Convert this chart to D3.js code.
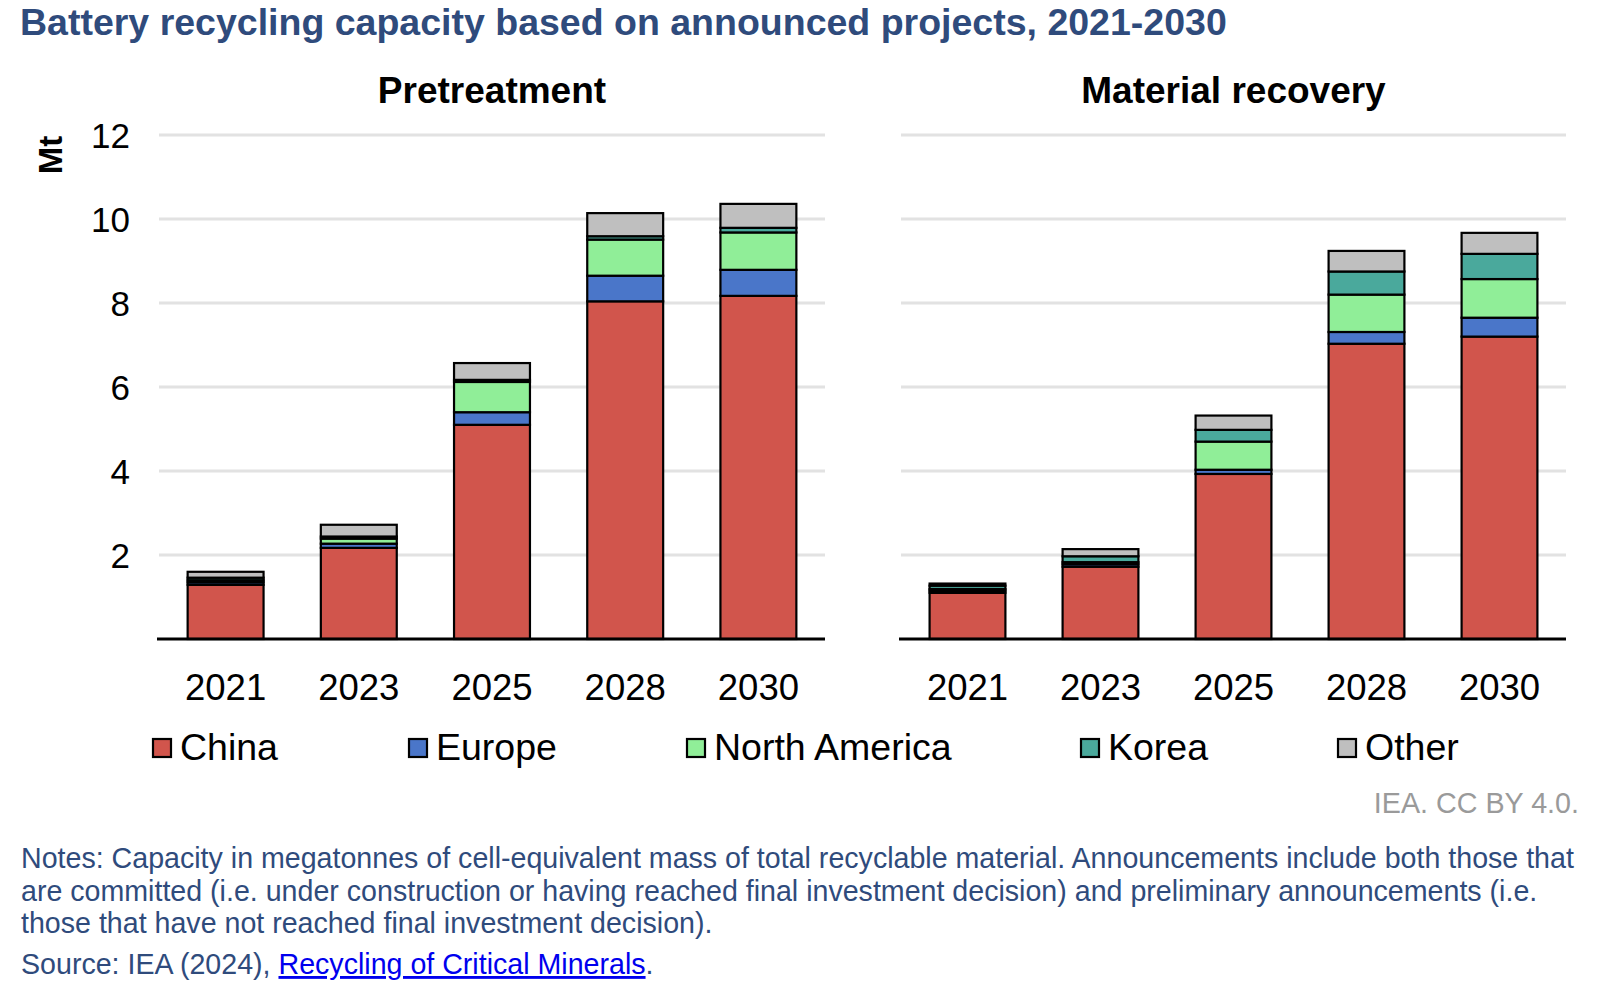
<!DOCTYPE html>
<html><head><meta charset="utf-8">
<script src="https://cdn.jsdelivr.net/npm/d3@7"></script>
<style>
body{margin:0;background:#fff;}
svg text{font-family:"Liberation Sans",Arial,sans-serif;}
</style></head>
<body><svg id="c" width="1612" height="992"></svg>
<script>
const years = ["2021","2023","2025","2028","2030"];
const regions = ["China","Europe","North America","Korea","Other"];
const colors = ["#d1554c","#4a76c9","#90ee98","#4aa99c","#bfbfbf"];
const yTicks = [2,4,6,8,10,12];
const gridTicks = [2,4,6,8,10,12];
const panelTitles = ["Pretreatment","Material recovery"];

// Pretreatment (Mt)
const preChina  = [1.29, 2.17, 5.10, 8.04, 8.17];
const preEurope = [0.06, 0.10, 0.30, 0.61, 0.62];
const preNA     = [0.05, 0.12, 0.72, 0.86, 0.89];
const preKorea  = [0.06, 0.05, 0.05, 0.08, 0.11];
const preOther  = [0.14, 0.28, 0.40, 0.55, 0.57];
// Material recovery (Mt)
const matChina  = [1.10, 1.72, 3.93, 7.03, 7.20];
const matEurope = [0.05, 0.06, 0.10, 0.28, 0.45];
const matNA     = [0.04, 0.05, 0.67, 0.89, 0.92];
const matKorea  = [0.08, 0.14, 0.28, 0.55, 0.60];
const matOther  = [0.05, 0.17, 0.34, 0.49, 0.50];

const panels = [
  [preChina, preEurope, preNA, preKorea, preOther],
  [matChina, matEurope, matNA, matKorea, matOther]
];

const svg = d3.select("#c");
const navy = "#2f4b7c";

svg.append("text").attr("x",20).attr("y",35)
  .attr("font-size",37.5).attr("font-weight","bold").attr("fill",navy)
  .text("Battery recycling capacity based on announced projects, 2021-2030");

const y = d3.scaleLinear().domain([0,12]).range([639,135]);
const panelX = [[159,825],[901,1566]];

panels.forEach((series, pi) => {
  const [x0,x1] = panelX[pi];
  const x = d3.scaleBand().domain(years).range([x0,x1]).paddingInner(0.43).paddingOuter(0.215);
  const g = svg.append("g");
  g.selectAll(".grid").data(gridTicks).join("line")
    .attr("x1",x0).attr("x2",x1)
    .attr("y1",d=>y(d)).attr("y2",d=>y(d))
    .attr("stroke","#e2e2e2").attr("stroke-width",3);
  const rows = years.map((yr,i)=>{
    const o={year:yr}; regions.forEach((r,k)=>o[r]=series[k][i]); return o;});
  const stack = d3.stack().keys(regions)(rows);
  stack.forEach((layer,k)=>{
    g.selectAll(".b"+k).data(layer).join("rect")
      .attr("x",d=>x(d.data.year)).attr("width",x.bandwidth())
      .attr("y",d=>y(d[1])).attr("height",d=>y(d[0])-y(d[1]))
      .attr("fill",colors[k]).attr("stroke","#000").attr("stroke-width",2.2);
  });
  g.append("line").attr("x1",x0-2).attr("x2",x1).attr("y1",y(0)).attr("y2",y(0))
    .attr("stroke","#000").attr("stroke-width",3);
  const xa = d3.axisBottom(x).tickSize(0).tickPadding(0);
  const ax = g.append("g").attr("transform",`translate(0,${y(0)})`).call(xa);
  ax.select(".domain").remove();
  ax.selectAll("text").attr("font-size",36.5).attr("fill","#000")
    .attr("dy",0).attr("y",61).style("font-family","'Liberation Sans',Arial,sans-serif");
  svg.append("text").attr("x",(x0+x1)/2).attr("y",103).attr("text-anchor","middle")
    .attr("font-size",37).attr("font-weight","bold").attr("fill","#000").text(panelTitles[pi]);
  if (pi===0){
    const ya = d3.axisLeft(y).tickValues(yTicks).tickSize(0).tickPadding(0);
    const ay = svg.append("g").attr("transform","translate(130,0)").call(ya);
    ay.select(".domain").remove();
    ay.selectAll("text").attr("font-size",35).attr("fill","#000").attr("dy","0.36em")
      .style("font-family","'Liberation Sans',Arial,sans-serif");
    svg.append("text").attr("transform","translate(62,155) rotate(-90)")
      .attr("text-anchor","middle").attr("font-size",33).attr("font-weight","bold").text("Mt");
  }
});

const legX = [153,409,687,1081,1338];
const lg = svg.append("g");
regions.forEach((r,k)=>{
  lg.append("rect").attr("x",legX[k]).attr("y",739).attr("width",18).attr("height",18)
    .attr("fill",colors[k]).attr("stroke","#000").attr("stroke-width",2.2);
  lg.append("text").attr("x",legX[k]+27).attr("y",760).attr("font-size",37.5).attr("fill","#000").text(r);
});

svg.append("text").attr("x",1579).attr("y",813).attr("text-anchor","end")
  .attr("font-size",28.7).attr("fill","#9a9a9a").text("IEA. CC BY 4.0.");

const notes = [
  "Notes: Capacity in megatonnes of cell-equivalent mass of total recyclable material. Announcements include both those that",
  "are committed (i.e. under construction or having reached final investment decision) and preliminary announcements (i.e.",
  "those that have not reached final investment decision)."
];
notes.forEach((t,i)=>{
  svg.append("text").attr("x",21).attr("y",868+i*32.5).attr("font-size",28.6).attr("fill",navy).text(t);
});
const src = svg.append("text").attr("x",21).attr("y",974).attr("font-size",28.6).attr("fill",navy);
src.append("tspan").text("Source: IEA (2024), ");
src.append("tspan").attr("fill","#0000ee").attr("text-decoration","underline").text("Recycling of Critical Minerals");
src.append("tspan").text(".");
</script></body></html>
